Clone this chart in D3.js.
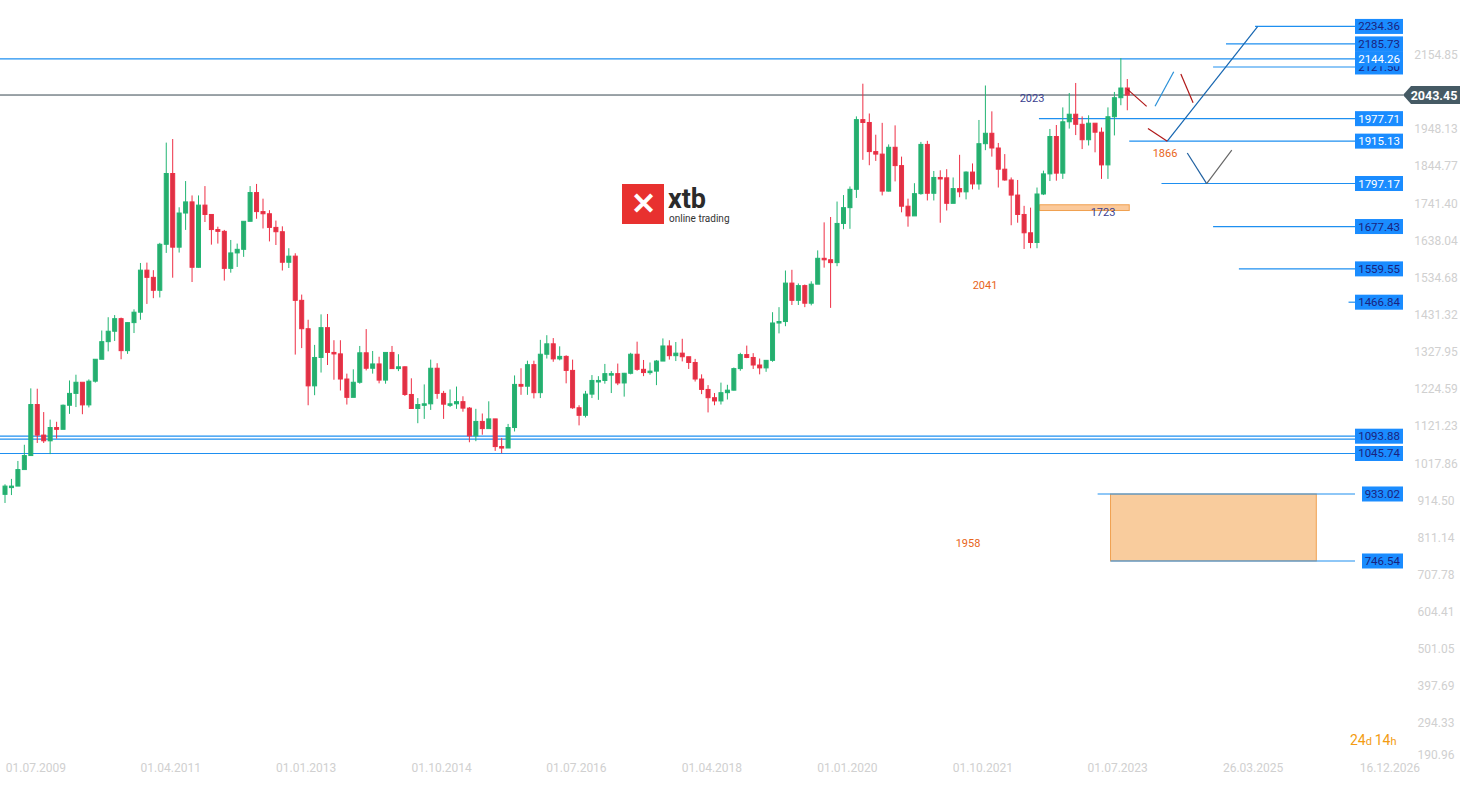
<!DOCTYPE html>
<html><head><meta charset="utf-8">
<script src="https://cdn.jsdelivr.net/npm/d3@7"></script>
<style>body{margin:0;background:#fff;font-family:Roboto,"Noto Sans",sans-serif}</style>
</head><body><svg id="c" width="1472" height="785"></svg>
<script>
// Monthly gold, Jul 2009 .. Jan 2024
const closes=[955,955,1001,1040,1182,1097,
1081,1118,1113,1180,1213,1244,1181,1247,1308,1357,1386,1421,
1332,1410,1439,1556,1536,1500,1628,1825,1620,1715,1746,1564,
1737,1711,1669,1664,1561,1604,1614,1692,1772,1719,1713,1675,
1663,1578,1595,1472,1393,1234,1313,1396,1327,1323,1253,1202,
1244,1326,1283,1295,1250,1327,1282,1287,1210,1171,1182,1184,
1283,1213,1183,1184,1190,1172,1095,1135,1115,1142,1065,1061,
1118,1238,1233,1293,1215,1322,1351,1309,1316,1277,1173,1152,
1211,1249,1249,1268,1268,1242,1269,1322,1280,1271,1275,1303,
1345,1318,1325,1315,1299,1253,1224,1201,1192,1215,1222,1282,
1321,1313,1292,1284,1305,1409,1413,1520,1472,1513,1464,1517,
1589,1585,1577,1686,1730,1781,1975,1967,1886,1879,1776,1898,
1847,1734,1707,1769,1906,1770,1814,1813,1742,1783,1774,1829,
1796,1908,1937,1896,1837,1807,1765,1711,1660,1633,1768,1824,
1928,1826,1969,1990,1962,1919,1965,1940,1849,1983,2036,2063,
2043.45];
const highs=[960,975,1025,1070,1227,1226,
1161,1140,1134,1182,1249,1265,1213,1252,1308,1388,1425,1431,
1424,1411,1447,1576,1577,1556,1632,1911,1921,1731,1804,1764,
1764,1790,1710,1677,1668,1640,1630,1692,1790,1796,1755,1723,
1694,1678,1617,1603,1488,1418,1348,1433,1434,1361,1361,1268,
1280,1345,1392,1331,1315,1326,1345,1322,1288,1255,1200,1238,
1307,1297,1220,1224,1232,1205,1175,1170,1157,1191,1142,1089,
1128,1263,1283,1304,1304,1362,1375,1367,1344,1319,1307,1180,
1220,1264,1261,1295,1275,1296,1270,1326,1357,1306,1299,1306,
1366,1361,1356,1365,1315,1309,1266,1236,1214,1243,1237,1285,
1326,1346,1325,1310,1306,1439,1453,1555,1557,1519,1516,1525,
1611,1689,1704,1747,1765,1789,1984,2075,1992,1933,1966,1906,
1959,1872,1755,1798,1913,1916,1832,1834,1837,1814,1877,1831,
1853,1974,2070,1998,1910,1879,1814,1807,1735,1730,1786,1833,
1949,1960,2009,2049,2077,1984,1987,1949,1953,2009,2052,2146,
2088];
const lows=[908,930,991,1026,1045,1075,
1075,1044,1087,1114,1156,1175,1155,1174,1243,1316,1330,1359,
1308,1323,1381,1418,1462,1478,1480,1604,1535,1605,1668,1523,
1563,1690,1627,1630,1527,1549,1565,1593,1692,1699,1672,1636,
1626,1555,1562,1321,1339,1180,1208,1271,1292,1251,1221,1182,
1221,1240,1277,1268,1241,1240,1282,1275,1206,1183,1130,1142,
1167,1198,1142,1175,1170,1162,1077,1080,1098,1136,1053,1046,
1061,1107,1209,1209,1199,1200,1310,1301,1305,1241,1170,1124,
1146,1200,1195,1240,1214,1236,1204,1266,1276,1261,1265,1236,
1303,1307,1303,1302,1281,1246,1211,1160,1180,1182,1196,1221,
1276,1311,1281,1266,1273,1301,1380,1400,1459,1459,1453,1458,
1518,1563,1451,1567,1670,1671,1757,1863,1848,1860,1764,1775,
1803,1717,1677,1723,1766,1750,1750,1688,1722,1746,1759,1753,
1781,1780,1890,1872,1786,1805,1681,1688,1615,1617,1617,1765,
1804,1805,1810,1950,1932,1893,1903,1884,1810,1810,1931,2015,
2001];
const firstOpen=932;
const yTicks=[2154.85,1948.13,1844.77,1741.40,1638.04,1534.68,1431.32,1327.95,1224.59,1121.23,1017.86,914.50,811.14,707.78,604.41,501.05,397.69,294.33,190.96];
const xTickLabels=["01.07.2009","01.04.2011","01.01.2013","01.10.2014","01.07.2016","01.04.2018","01.01.2020","01.10.2021","01.07.2023","26.03.2025","16.12.2026"];
const xTickIdx=[4.8,25.7,46.7,67.7,88.6,109.6,130.6,151.6,172.5,193.5,214.7];
// level lines: value, start index, label text colour ('w' white / 'd' dark)
const levels=[[2234.36,193.8,'d'],[2185.73,189.3,'d'],[2144.26,-1,'w'],[2121.50,187.3,'d'],
[1977.71,160.3,'w'],[1915.13,174.3,'w'],[1797.17,179.3,'w'],[1677.43,187.3,'d'],[1559.55,191.3,'d'],
[1466.84,208.3,'d'],[1093.88,-1,'d'],[1045.74,-1,'d'],[933.02,169.4,'d'],[746.54,171.4,'d']];
const current=2043.45;

const svg=d3.select('#c');
const x=d3.scaleLinear().domain([0,1]).range([5,11.45]);
const y=d3.scaleLinear().domain([190.96,2154.85]).range([760.6,55]);
const plotR=1403;

svg.append('g').selectAll('text').data(yTicks).join('text')
 .attr('x',1436).attr('y',d=>Math.min(y(d),755)+4).attr('text-anchor','middle')
 .attr('font-size',12).attr('fill','#d0d0d0').text(d=>d.toFixed(2));
svg.append('g').selectAll('text').data(xTickLabels).join('text')
 .attr('x',(d,i)=>x(xTickIdx[i])).attr('y',772).attr('text-anchor','middle')
 .attr('font-size',12).attr('fill','#d0d0d0').text(d=>d);

const lg=svg.append('g').attr('transform','translate(622,184)');
lg.append('rect').attr('width',42).attr('height',40).attr('fill','#e8312f');
lg.append('text').attr('x',21).attr('y',30).attr('text-anchor','middle').attr('fill','#fff').attr('font-size',30).attr('font-weight','bold').text('✕');
lg.append('text').attr('x',46).attr('y',24).attr('font-size',27).attr('font-weight','bold').attr('fill','#2b2b2b').text('xtb');
lg.append('text').attr('x',47).attr('y',38).attr('font-size',10).attr('fill','#333').text('online trading');

svg.append('rect').attr('x',x(160.4)).attr('y',y(1738)).attr('width',x(174.3)-x(160.4)).attr('height',y(1722)-y(1738))
 .attr('fill','#fbc99a').attr('stroke','#f0a050');
svg.append('rect').attr('x',x(171.4)).attr('y',y(933.02)).attr('width',x(203.3)-x(171.4)).attr('height',y(746.54)-y(933.02))
 .attr('fill','#f9cc9d').attr('stroke','#f0a050');

levels.forEach(([v,s,c])=>{
  const x0=s<0?0:x(s);
  svg.append('line').attr('x1',x0).attr('x2',1355).attr('y1',y(v)).attr('y2',y(v)).attr('stroke','#1e8ff0').attr('stroke-width',1.2);
});
svg.append('line').attr('x1',0).attr('x2',1355).attr('y1',y(1093.88)+3).attr('y2',y(1093.88)+3).attr('stroke','#1e8ff0').attr('stroke-width',1.2);
svg.append('line').attr('x1',0).attr('x2',plotR).attr('y1',y(current)).attr('y2',y(current)).attr('stroke','#37474f').attr('stroke-width',1);

const data=closes.map((c,i)=>({i,o:i?closes[i-1]:firstOpen,c,h:highs[i],l:lows[i]}));
data[data.length-1].o=2063;
const cg=svg.append('g').selectAll('g').data(data).join('g');
const col=d=>d.c>=d.o?'#22b573':'#ee2f45';
cg.append('line').attr('x1',d=>x(d.i)).attr('x2',d=>x(d.i)).attr('y1',d=>y(d.h)).attr('y2',d=>y(d.l)).attr('stroke',col);
cg.append('rect').attr('x',d=>x(d.i)-2).attr('width',4)
 .attr('y',d=>y(Math.max(d.o,d.c))).attr('height',d=>Math.max(1.5,Math.abs(y(d.o)-y(d.c))))
 .attr('fill',d=>d.c>=d.o?'#27ad6e':'#de3245').attr('stroke',col);

const segs=[[174,2060,177,2012,'#b01818'],[178.3,2012,181.2,2108,'#2a90d8'],[182.3,2102,184.2,2022,'#b01818'],
[180.2,1915,194.2,2234,'#1565b0'],[177.2,1950,180.2,1915,'#b01818'],[183.3,1882,186.3,1797,'#1f60a0'],[186.3,1797,190.2,1890,'#666']];
segs.forEach(s=>svg.append('line').attr('x1',x(s[0])).attr('y1',y(s[1])).attr('x2',x(s[2])).attr('y2',y(s[3])).attr('stroke',s[4]).attr('stroke-width',1.2));

levels.forEach(([v,s,c])=>{
  const bx=(v<1000)?1362:1355;
  svg.append('rect').attr('x',bx).attr('y',y(v)-7.5).attr('width',1403-bx).attr('height',15).attr('fill','#1a8cff');
  svg.append('text').attr('x',1400).attr('y',y(v)+4).attr('text-anchor','end').attr('font-size',11.5)
   .attr('fill',c==='w'?'#fff':'#1a237e').text(v.toFixed(2));
});
svg.append('rect').attr('x',1355).attr('y',y(2144.26)-7.5).attr('width',48).attr('height',15).attr('fill','#1a8cff');
svg.append('text').attr('x',1400).attr('y',y(2144.26)+4).attr('text-anchor','end').attr('font-size',11.5).attr('fill','#fff').text('2144.26');
const cy=y(current);
svg.append('path').attr('d',`M1403,${cy} L1411,${cy-9} L1460,${cy-9} L1460,${cy+9} L1411,${cy+9} Z`).attr('fill','#455a64');
svg.append('text').attr('x',1434).attr('y',cy+4.5).attr('text-anchor','middle').attr('font-size',12.5).attr('font-weight','bold').attr('fill','#fff').text(current.toFixed(2));

const notes=[["2023",1032,102,'#3a3f8f'],["1866",1165,157,'#e8651a'],["1723",1103,216,'#3a3f8f'],["2041",985,289,'#e8651a'],["1958",968,547,'#e8651a']];
svg.append('g').selectAll('text').data(notes).join('text').attr('x',d=>d[1]).attr('y',d=>d[2]).attr('text-anchor','middle')
 .attr('font-size',11).attr('fill',d=>d[3]).text(d=>d[0]);
const t=svg.append('text').attr('x',1350).attr('y',745).attr('fill','#f39c12').attr('font-size',14);
t.append('tspan').text('24'); t.append('tspan').attr('font-size',11).text('d '); t.append('tspan').text('14'); t.append('tspan').attr('font-size',11).text('h');
</script></body></html>
